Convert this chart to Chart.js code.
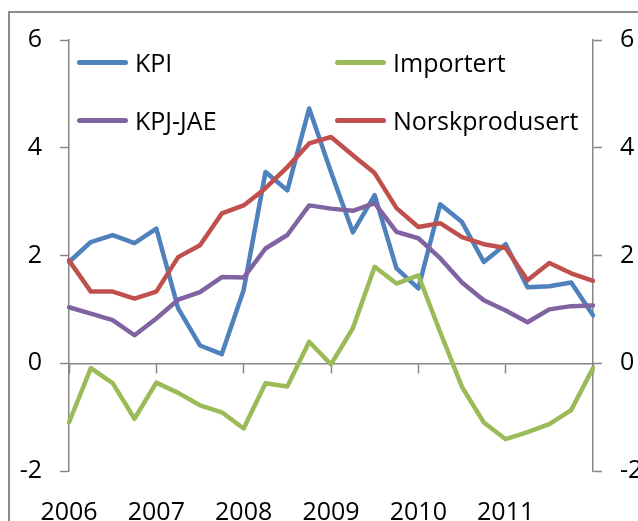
<!DOCTYPE html>
<html>
<head>
<meta charset="utf-8">
<script src="https://cdn.jsdelivr.net/npm/chart.js@4.4.1/dist/chart.umd.min.js"></script>
<style>
  body { margin: 0; overflow: hidden; background: #fff; }
  #wrap { position: relative; width: 638px; height: 521px; overflow: hidden; }
  #frame { position: absolute; left: 8px; top: 11px; width: 700px; height: 600px; border: 2px solid #8c8c8c; box-sizing: border-box; }
  #cpiChart { position: absolute; left: 0; top: 0; }
  #legend { position: absolute; left: 0; top: 0; font: 25px 'Open Sans', sans-serif; color: #000; }
  .item { position: absolute; display: flex; align-items: center; white-space: nowrap; height: 30px; margin-top: -15px; }
  .swatch { display: inline-block; width: 51px; height: 5px; border-radius: 3px; margin-right: 7px; }
</style>
</head>
<body>
<div id="wrap">
  <div id="frame"></div>
  <canvas id="cpiChart" width="638" height="521"></canvas>
  <div id="legend"></div>
</div>
<script>
// quarterly, 2006K1 - 2012K1
const quarters = [
  '2006K1','2006K2','2006K3','2006K4','2007K1','2007K2','2007K3','2007K4',
  '2008K1','2008K2','2008K3','2008K4','2009K1','2009K2','2009K3','2009K4',
  '2010K1','2010K2','2010K3','2010K4','2011K1','2011K2','2011K3','2011K4','2012K1'
];
const yearLabels = ['2006','2007','2008','2009','2010','2011'];

const kpi       = [1.88, 2.25, 2.38, 2.23, 2.50, 1.02, 0.33, 0.17, 1.36, 3.55, 3.21, 4.73, 3.55, 2.43, 3.12, 1.76, 1.39, 2.95, 2.62, 1.88, 2.21, 1.41, 1.43, 1.50, 0.89];
const importert = [-1.10, -0.09, -0.37, -1.03, -0.36, -0.55, -0.78, -0.91, -1.21, -0.37, -0.43, 0.40, -0.02, 0.65, 1.79, 1.48, 1.63, 0.58, -0.44, -1.10, -1.41, -1.28, -1.13, -0.87, -0.09];
const kpjJae    = [1.04, 0.92, 0.80, 0.52, 0.83, 1.18, 1.32, 1.60, 1.59, 2.13, 2.38, 2.93, 2.87, 2.83, 2.97, 2.44, 2.32, 1.95, 1.50, 1.17, 0.98, 0.76, 1.00, 1.06, 1.07];
const norsk     = [1.91, 1.33, 1.33, 1.20, 1.33, 1.97, 2.19, 2.78, 2.93, 3.25, 3.64, 4.08, 4.20, 3.86, 3.53, 2.88, 2.53, 2.60, 2.34, 2.21, 2.14, 1.54, 1.86, 1.67, 1.53];

const axisGray = '#868686';
const tickFont = { family: "'Open Sans', sans-serif", size: 25 };

function line(label, data, color, order) {
  return {
    label: label, data: data, borderColor: color, backgroundColor: color,
    borderWidth: 4.5, pointRadius: 0, tension: 0, order: order,
    borderJoinStyle: 'round', borderCapStyle: 'round'
  };
}

function yAxis(pos, w) {
  return {
    position: pos, min: -2, max: 6,
    ticks: { stepSize: 2, color: '#000', font: tickFont, padding: 18 },
    grid: { drawOnChartArea: false, tickLength: 9, tickColor: axisGray, tickWidth: 1.5 },
    border: { color: axisGray, width: 1.5 },
    afterFit: function (s) { s.width = w; }
  };
}

const chart = new Chart(document.getElementById('cpiChart'), {
  type: 'line',
  data: {
    labels: quarters,
    datasets: [
      line('KPI', kpi, '#4F81BD', 4),
      line('Importert', importert, '#9BBB59', 3),
      line('KPJ-JAE', kpjJae, '#8064A2', 2),
      line('Norskprodusert', norsk, '#C0504D', 1)
    ]
  },
  options: {
    responsive: false,
    animation: false,
    layout: { padding: { top: 40 } },
    plugins: { legend: { display: false }, tooltip: { enabled: false } },
    scales: {
      x: {
        type: 'category', position: { y: 0 }, offset: false,
        ticks: { display: false },
        grid: {
          drawOnChartArea: false, tickLength: 9, tickWidth: 1.5,
          tickColor: function (c) { return c.index % 4 === 0 ? axisGray : 'rgba(0,0,0,0)'; }
        },
        border: { color: axisGray, width: 1.5 }
      },
      xLab: {
        type: 'category', position: 'bottom', offset: false,
        ticks: {
          autoSkip: false, maxRotation: 0, color: '#000', font: tickFont, padding: 19,
          callback: function (v, i) { return i % 4 === 0 && yearLabels[i / 4] ? yearLabels[i / 4] : ''; }
        },
        grid: { display: false },
        border: { display: false },
        afterFit: function (s) { s.height = 50; }
      },
      y: yAxis('left', 69),
      y2: yAxis('right', 45)
    }
  }
});

// legend: two columns, two rows inside the plot
const legend = document.getElementById('legend');
chart.data.datasets.forEach(function (ds, i) {
  const item = document.createElement('div');
  item.className = 'item';
  item.style.left = (77 + (i % 2) * 258) + 'px';
  item.style.top = (62 + Math.floor(i / 2) * 58) + 'px';
  const sw = document.createElement('span');
  sw.className = 'swatch';
  sw.style.background = ds.borderColor;
  item.appendChild(sw);
  item.appendChild(document.createTextNode(ds.label));
  legend.appendChild(item);
});
</script>
</body>
</html>
